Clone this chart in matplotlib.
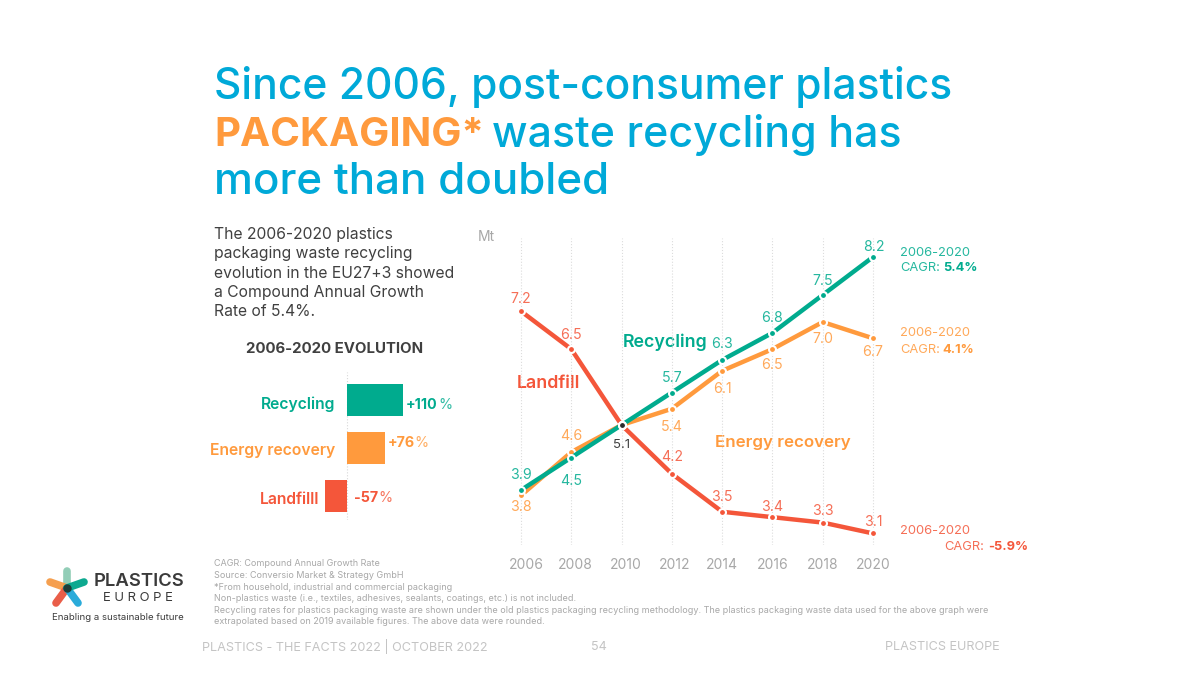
import matplotlib
matplotlib.use("Agg")
import matplotlib.pyplot as plt
from matplotlib.transforms import ScaledTranslation

plt.rcParams["font.family"] = ["Inter", "DejaVu Sans"]

TEAL = "#00AB8E"
ORANGE = "#FF9A3D"
RED = "#F4563A"
BLUE = "#00A9D8"
DARK = "#404040"
GREY = "#a8a8a8"
FOOT = "#c4c4c4"

years = [2006, 2008, 2010, 2012, 2014, 2016, 2018, 2020]
recycling = [3.9, 4.5, 5.1, 5.7, 6.3, 6.8, 7.5, 8.2]
energy = [3.8, 4.6, 5.1, 5.4, 6.1, 6.5, 7.0, 6.7]
landfill = [7.2, 6.5, 5.1, 4.2, 3.5, 3.4, 3.3, 3.1]

evo_names = ["Recycling", "Energy recovery", "Landfilll"]
evo_labels = ["+110", "+76", "-57"]
# bar lengths as drawn in the slide, the landfill bar is shorter than -57 would be
evo_drawn = [110, 74, -43]

# label offsets in pixels from the marker, None = no label
rec_off = [(0, -15), (0, 23), None, (0, -14), (0, -16), (0, -15), (0, -14), (1, -10)]
ene_off = [(0, 12), (0, -16), None, (0, 18), (0, 18), (0, 16), (0, 17), (0, 14)]
lan_off = [(0, -12), (0, -14), None, (0, -17), (0, -15), (0, -10), (0, -12), (0, -11)]

W, H = 1200, 675
fig = plt.figure(figsize=(12, 6.75), dpi=100, facecolor="white")

# full page axes in pixel coords, for all the slide text
page = fig.add_axes([0, 0, 1, 1])
page.set_xlim(0, W)
page.set_ylim(H, 0)
page.axis("off")


def txt(x, y, s, size, color, weight="normal", ha="left", alpha=1):
    return page.text(x, y, s, fontsize=size, color=color, fontweight=weight, ha=ha, va="center", alpha=alpha)


def px_axes(left, top, right, bottom):
    return fig.add_axes([left / W, 1 - bottom / H, (right - left) / W, (bottom - top) / H])


# title
txt(214, 87, "Since 2006, post-consumer plastics", 30.6, BLUE, "medium")
txt(214, 135, "PACKAGING*", 29, ORANGE, "bold")
txt(492, 135, "waste recycling has", 30.9, BLUE, "medium")
txt(214, 183, "more than doubled", 31.6, BLUE, "medium")

# intro
intro = ["The 2006-2020 plastics", "packaging waste recycling", "evolution in the EU27+3 showed",
         "a Compound Annual Growth", "Rate of 5.4%."]
for i, line in enumerate(intro):
    txt(214, 234 + i * 19.5, line, 11.3, DARK)

# small bars
txt(335, 349, "2006-2020 EVOLUTION", 10.8, DARK, "bold", ha="center")
bar_ax = px_axes(290, 372, 420, 520)
bar_ax.set_xlim(-(347 - 290) / 0.509, (420 - 347) / 0.509)
bar_ax.set_ylim(520, 372)
bar_ax.axis("off")
bar_cols = [TEAL, ORANGE, RED]
bar_ys = [400, 447.5, 496]
bar_ax.barh(bar_ys, evo_drawn, height=32, color=bar_cols)
bar_ax.axvline(0, color="#d8d8d8", lw=0.8, ls=":", zorder=0)

name_pos = [(335, 404), (335, 450), (319, 500)]
lab_pos = [(406, 405), (388, 443), (354, 498)]
pct_x = [438, 414, 378]
for name, lab, col, np_, lp, px_ in zip(evo_names, evo_labels, bar_cols, name_pos, lab_pos, pct_x):
    txt(np_[0], np_[1], name, 11.3, col, "semibold", ha="right")
    txt(lp[0], lp[1], lab, 10.3, col, "bold")
    txt(px_, lp[1], "%", 10.3, col, alpha=0.8)

# line chart
ax = px_axes(496, 238, 900, 545)
px_per_year = (873 - 521) / 14
ax.set_xlim(2006 - (521 - 496) / px_per_year, 2020 + (900 - 873) / px_per_year)
ax.set_ylim(8.2 - (545 - 257) / 54.2, 8.2 + (257 - 238) / 54.2)
ax.patch.set_alpha(0)
for s in ax.spines.values():
    s.set_visible(False)
ax.set_yticks([])
ax.set_xticks(years)
ax.set_xticklabels(years)
ax.tick_params(axis="x", length=0, pad=9.5, labelsize=10, labelcolor=GREY)
ax.grid(axis="x", color="#dcdcdc", lw=0.8, ls=":")
ax.set_axisbelow(True)

# the first labels sit a little right of their gridline
nudges = [5, 4, 4, 3, 0, 0, 0, 0]
for lab, dx in zip(ax.get_xticklabels(), nudges):
    lab.set_transform(lab.get_transform() + ScaledTranslation(dx / 100, 0, fig.dpi_scale_trans))

for vals, col, off in [(landfill, RED, lan_off), (energy, ORANGE, ene_off), (recycling, TEAL, rec_off)]:
    ax.plot(years, vals, color=col, lw=3.2, marker="o", ms=5, mfc=col, mec="white", mew=1.5, solid_capstyle="butt")
    for x, v, o in zip(years, vals, off):
        if o is None:
            continue
        ax.annotate(f"{v:.1f}", (x, v), xytext=(o[0], -o[1]), textcoords="offset pixels",
                    ha="center", va="center", fontsize=10.2, color=col, alpha=0.85)

# shared point at 2010
ax.plot(years[2], recycling[2], "o", ms=5, mfc="#2b2b2b", mec="white", mew=1.5, zorder=5)
ax.annotate(f"{recycling[2]:.1f}", (years[2], recycling[2]), xytext=(0, -20), textcoords="offset pixels",
            ha="center", va="center", fontsize=9.5, color=DARK)

txt(478, 237, "Mt", 10, GREY)
txt(623, 342, "Recycling", 12.8, TEAL, "semibold")
txt(517, 383, "Landfill", 12.8, RED, "semibold")
txt(715, 442, "Energy recovery", 12.2, ORANGE, "semibold")

# CAGR notes
for y1, y2, x2, xv, col, val in [(253, 268, 900, 943, TEAL, "5.4%"),
                                 (333, 350, 900, 942, ORANGE, "4.1%"),
                                 (531, 547, 944, 988, RED, "-5.9%")]:
    txt(900, y1, "2006-2020", 9.3, col, alpha=0.85)
    txt(x2, y2, "CAGR:", 9.3, col, alpha=0.85)
    txt(xv, y2, val, 9.3, col, "bold")

# notes
notes = [
    "CAGR: Compound Annual Growth Rate",
    "Source: Conversio Market & Strategy GmbH",
    "*From household, industrial and commercial packaging",
    "Non-plastics waste (i.e., textiles, adhesives, sealants, coatings, etc.) is not included.",
    "Recycling rates for plastics packaging waste are shown under the old plastics packaging recycling methodology. The plastics packaging waste data used for the above graph were",
    "extrapolated based on 2019 available figures. The above data were rounded.",
]
for i, line in enumerate(notes):
    txt(214, 564 + i * 11.6, line, 6.5, GREY)

# footer
txt(202, 647, "PLASTICS - THE FACTS 2022 | OCTOBER 2022", 9.1, FOOT)
txt(591, 647, "54", 9.1, FOOT)
txt(885, 647, "PLASTICS EUROPE", 9.1, FOOT)

# logo
cx, cy = 67, 588
petals = [((67, 571), "#8CCBB3"), ((50, 582), "#F59A45"), ((56, 603), "#E8553F"),
          ((78, 603), "#1EA7D8"), ((84, 582), "#00A58A")]
for (px, py), col in petals:
    page.plot([cx, px], [cy, py], color=col, lw=5.5, solid_capstyle="round", alpha=0.95)
page.plot(cx, cy, "o", ms=5, color="#1f3d38")
txt(94, 582, "PLASTICS", 13.3, "#3a3a3a", "semibold")
txt(103, 598, "E U R O P E", 9.4, "#3a3a3a")
txt(52, 617, "Enabling a sustainable future", 6.9, "#3a3a3a")

fig.savefig("out.png", dpi=100, facecolor="white")
